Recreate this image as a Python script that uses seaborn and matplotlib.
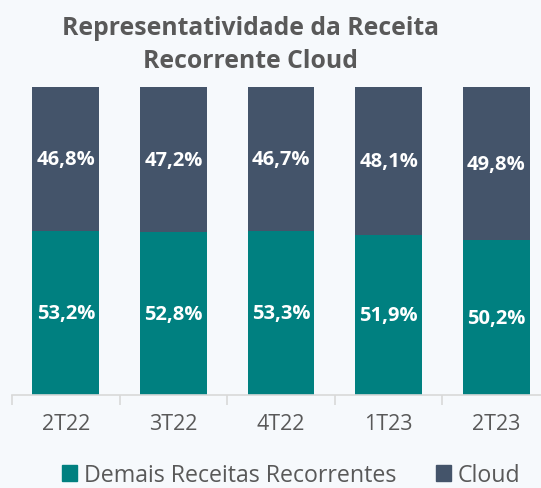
import pandas as pd
import matplotlib.pyplot as plt
import seaborn as sns
from matplotlib.patches import Patch

# Data
quarters = ["2T22", "3T22", "4T22", "1T23", "2T23"]
demais = [53.2, 52.8, 53.3, 51.9, 50.2]
cloud = [46.8, 47.2, 46.7, 48.1, 49.8]

TEAL = "#008080"
SLATE = "#44546A"
GRAY = "#595959"
BG = "#F6F9FC"

sns.set_theme(style="white")
plt.rcParams["font.family"] = ["Open Sans", "DejaVu Sans"]

df = pd.DataFrame({"quarter": quarters, "demais": demais, "cloud": cloud})
df["total"] = df["demais"] + df["cloud"]

fig = plt.figure(figsize=(5.41, 4.89), dpi=100, facecolor=BG)
ax = fig.add_axes([12 / 541, 1 - 396 / 489, 538 / 541, 308 / 489])
ax.set_facecolor(BG)

# Stacked bars: full height in cloud colour, then the bottom segment on top
sns.barplot(data=df, x="quarter", y="total", color=SLATE, width=0.62,
            saturation=1, linewidth=0, ax=ax)
sns.barplot(data=df, x="quarter", y="demais", color=TEAL, width=0.62,
            saturation=1, linewidth=0, ax=ax)

for i, (d, c) in enumerate(zip(demais, cloud)):
    ax.text(i, d / 2, f"{d:.1f}%".replace(".", ","), ha="center", va="center",
            color="white", fontsize=14.5, fontweight="bold")
    ax.text(i, d + c / 2, f"{c:.1f}%".replace(".", ","), ha="center", va="center",
            color="white", fontsize=14.5, fontweight="bold")

ax.set_xlim(-0.5, 4.5)
ax.set_ylim(0, 100)
ax.set_xlabel("")
ax.set_ylabel("")
ax.set_yticks([])
for s in ["top", "right", "left"]:
    ax.spines[s].set_visible(False)
ax.spines["bottom"].set_color("#D9D9D9")
ax.spines["bottom"].set_linewidth(1.2)

# ticks between categories
ax.set_xticks([i - 0.5 for i in range(6)], minor=True)
ax.tick_params(axis="x", which="minor", length=7, color="#D9D9D9", width=1.2,
               bottom=True)
ax.tick_params(axis="x", which="major", length=0, labelsize=15.5,
               labelcolor=GRAY, pad=13)

fig.text(250 / 541, 1 - 45 / 489, "Representatividade da Receita\nRecorrente Cloud",
         ha="center", va="center", fontsize=17.8, fontweight="bold", color=GRAY,
         linespacing=1.4)

handles = [Patch(color=TEAL, label="Demais Receitas Recorrentes"),
           Patch(color=SLATE, label="Cloud")]
fig.legend(handles=handles, loc="center", bbox_to_anchor=(291 / 541, 1 - 476 / 489),
           ncol=2, frameon=False, fontsize=16.7, labelcolor=GRAY,
           handlelength=0.65, handleheight=0.65, handletextpad=0.3,
           columnspacing=1.7)

fig.savefig("out.png", dpi=100, facecolor=BG)
